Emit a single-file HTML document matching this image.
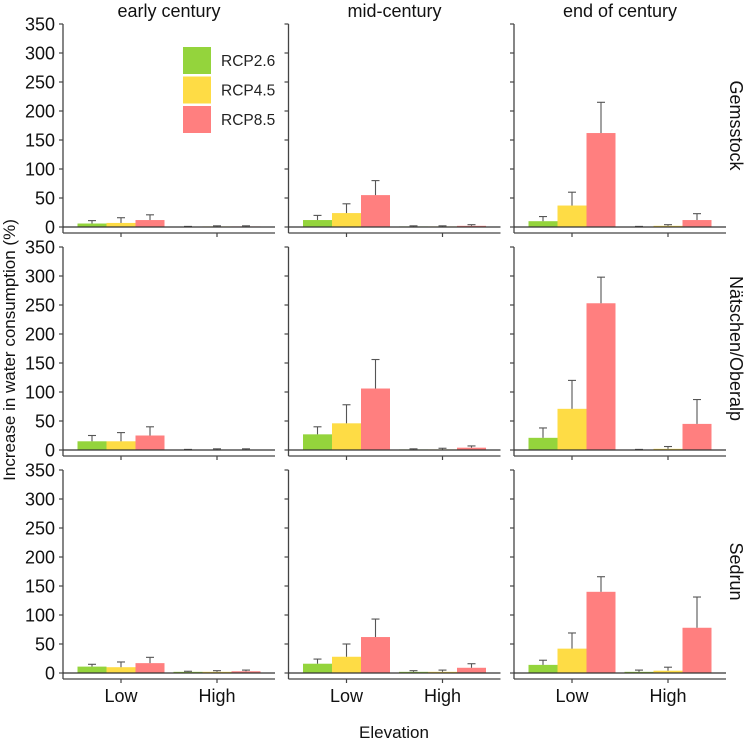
<!DOCTYPE html>
<html><head><meta charset="utf-8"><style>
body{margin:0;background:#fff}
svg{display:block;font-family:"Liberation Sans",sans-serif}
</style></head><body>
<svg id="c" width="749" height="741"></svg>
<script>
const periods=["early century","mid-century","end of century"];
const sites=["Gemsstock","Nätschen/Oberalp","Sedrun"];
const elevations=["Low","High"];
const scenarios=["RCP2.6","RCP4.5","RCP8.5"];
const colors=["#94d43c","#fedc45","#ff7f7f"];
const yTicks=[0,50,100,150,200,250,300,350];
// values[site][period][elevation] = [rcp26, rcp45, rcp85]
const values=[
 [[[6,7,12],[0,1,1]],[[12,24,55],[1,1,2]],[[10,37,162],[0,2,12]]],
 [[[15,15,25],[0,0,0]],[[27,46,106],[1,1,4]],[[21,71,253],[0,2,45]]],
 [[[11,10,17],[2,2,3]],[[16,28,62],[2,2,9]],[[14,42,140],[2,4,78]]]
];
const errTops=[
 [[[11,16,21],[1,2,2]],[[20,40,80],[2,2,4]],[[18,60,215],[1,4,23]]],
 [[[25,30,40],[1,2,2]],[[40,78,156],[2,3,7]],[[38,120,298],[1,6,87]]],
 [[[15,19,27],[3,4,5]],[[24,50,93],[4,5,16]],[[22,69,166],[5,10,131]]]
];
const svg=document.getElementById('c');
const NS="http://www.w3.org/2000/svg";
function mk(t,a,p){const e=document.createElementNS(NS,t);for(const k in a)e.setAttribute(k,a[k]);(p||svg).appendChild(e);return e;}
const panelLeft=c=>63+c*225.5, panelW=212;
const zeroY=r=>227+r*223, yPx=203/350;
const y=(r,v)=>zeroY(r)-v*yPx;
const groupX=(c,g)=>panelLeft(c)+58+g*96;
const barW=29;
periods.forEach((p,c)=>{
  const t=mk('text',{x:panelLeft(c)+panelW/2,y:17,'text-anchor':'middle','font-size':18,fill:'#111'});t.textContent=p;
  
  
});
sites.forEach((s,r)=>{
  const cy=(y(r,350)+zeroY(r))/2;
  const t=mk('text',{x:0,y:0,'text-anchor':'middle','font-size':18,fill:'#111',transform:`translate(730 ${cy}) rotate(90)`});t.textContent=s;
  
  
  periods.forEach((p,c)=>{
    const L=panelLeft(c);
    const g=mk('g',{});
    
    
    mk('line',{x1:L,y1:y(r,350),x2:L,y2:zeroY(r)+6,stroke:'#444','stroke-width':1.3},g);
    mk('line',{x1:L,y1:zeroY(r)+6,x2:L+panelW,y2:zeroY(r)+6,stroke:'#444','stroke-width':1.3},g);
    yTicks.forEach(v=>{
      mk('line',{x1:L-4,y1:y(r,v),x2:L,y2:y(r,v),stroke:'#444','stroke-width':1.2},g);
      if(c===0){const tt=mk('text',{x:L-8,y:y(r,v)+6.5,'text-anchor':'end','font-size':18,fill:'#111'},g);tt.textContent=v;}
    });
    elevations.forEach((e,gi)=>{
      const gx=groupX(c,gi);
      mk('line',{x1:gx,y1:zeroY(r)+6,x2:gx,y2:zeroY(r)+10,stroke:'#444','stroke-width':1.2},g);
      if(r===2){const tt=mk('text',{x:gx,y:zeroY(r)+29,'text-anchor':'middle','font-size':18,fill:'#111'},g);tt.textContent=e;}
      scenarios.forEach((sc,k)=>{
        const v=values[r][c][gi][k], et=errTops[r][c][gi][k];
        const x0=gx-1.5*barW+k*barW;
        const b=mk('rect',{x:x0,y:y(r,v),width:barW,height:Math.max(0,zeroY(r)-y(r,v)),fill:colors[k]},g);
        
        
        const cx=x0+barW/2;
        mk('line',{x1:cx,y1:y(r,v),x2:cx,y2:y(r,et),stroke:'#555','stroke-width':1.1},g);
        mk('line',{x1:cx-4,y1:y(r,et),x2:cx+4,y2:y(r,et),stroke:'#555','stroke-width':1.1},g);
      });
    });
    mk('line',{x1:L,y1:zeroY(r),x2:L+panelW,y2:zeroY(r),stroke:'#333','stroke-width':1.3},g);
  });
});
scenarios.forEach((sc,k)=>{
  const g=mk('g',{});
  
  
  mk('rect',{x:183,y:47+k*29.5,width:28,height:27,fill:colors[k]},g);
  const t=mk('text',{x:221,y:66+k*29.5,'font-size':15.5,fill:'#222'},g);t.textContent=sc;
});
const yt=mk('text',{x:0,y:0,'text-anchor':'middle','font-size':17,fill:'#111',transform:'translate(15 350) rotate(-90)'});
yt.textContent='Increase in water consumption (%)';


const xt=mk('text',{x:394,y:738,'text-anchor':'middle','font-size':17,fill:'#111'});
xt.textContent='Elevation';


</script>
</body></html>
